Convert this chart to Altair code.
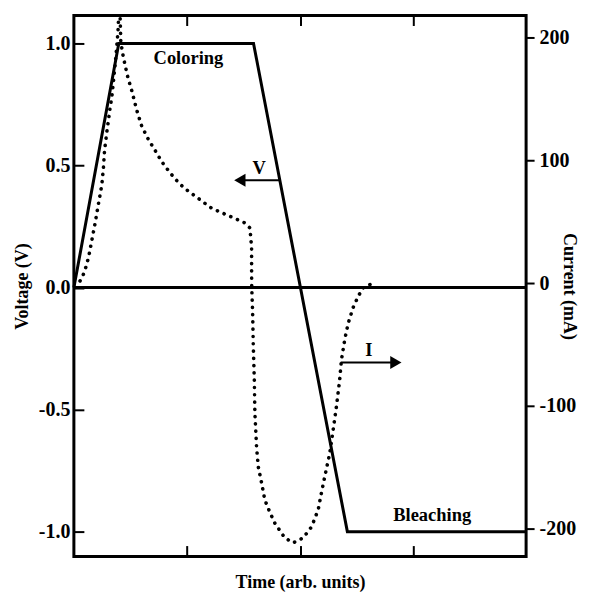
import altair as alt
import pandas as pd

# ---- data ----
# Voltage (solid line), time in arbitrary units
v_time = [0.0, 0.397, 1.589, 2.419, 4.0]
v_volts = [0.0, 1.0, 1.0, -1.0, -1.0]

# Current (dotted line), mA
i_time = [0.000, 0.042, 0.071, 0.100, 0.130, 0.159, 0.188, 0.218, 0.247, 0.262,
          0.271, 0.291, 0.306, 0.320, 0.336, 0.365, 0.390, 0.398, 0.404, 0.410,
          0.415, 0.430, 0.450, 0.477, 0.512, 0.556, 0.600, 0.660, 0.733, 0.777,
          0.850, 0.925, 0.983, 1.101, 1.219, 1.366, 1.513, 1.557, 1.572, 1.572,
          1.573, 1.581, 1.587, 1.596, 1.601, 1.616, 1.631, 1.660, 1.689, 1.733,
          1.778, 1.866, 1.940, 2.028, 2.102, 2.161, 2.190, 2.219, 2.263, 2.293,
          2.322, 2.351, 2.366, 2.396, 2.426, 2.470, 2.514, 2.558, 2.602, 2.650]
i_ma = [0, 0, 4, 11, 21, 35, 49, 65, 80, 95,
        108, 123, 133, 143, 152, 178, 205, 222, 232, 214,
        197, 188, 179, 168, 157, 141, 128, 117, 106, 99,
        90, 82, 77, 69, 61, 55, 49, 45, 29, 11,
        -3, -24, -52, -79, -106, -134, -150, -163, -177, -187,
        -196, -208, -212, -208, -199, -185, -171, -158, -139, -120,
        -101, -79, -63, -46, -33, -20, -11, -4, -2, 0]

# Annotations
phase_labels = ["Coloring", "Bleaching"]
phase_time = [1.013, 3.514]
phase_volts = [0.917, -0.958]

v_tag = ["V"]
v_tag_time = [1.638]
v_tag_volts = [0.491]
v_arrow_from = [1.819]
v_arrow_to = [1.468]
v_arrow_volts = [0.44]

i_tag = ["I"]
i_tag_time = [2.609]
i_tag_ma = [-54.3]
i_arrow_from = [2.360]
i_arrow_to = [2.848]
i_arrow_ma = [-64.9]

x_ticks = [1, 2, 3]
v_ticks = [-1.0, -0.5, 0.0, 0.5, 1.0]
i_ticks = [-200, -100, 0, 100, 200]

# ---- tables ----
df_v = pd.DataFrame({"t": v_time, "v": v_volts})
df_i = pd.DataFrame({"t": i_time, "i": i_ma, "idx": list(range(len(i_time)))})
df_zero = pd.DataFrame({"v": [0.0]})
df_col = pd.DataFrame({"t": phase_time[:1], "v": phase_volts[:1], "label": phase_labels[:1]})
df_ble = pd.DataFrame({"t": phase_time[1:], "v": phase_volts[1:], "label": phase_labels[1:]})
df_vtag = pd.DataFrame({"t": v_tag_time, "v": v_tag_volts, "label": v_tag})
df_varr = pd.DataFrame({"t": v_arrow_from, "t2": v_arrow_to, "v": v_arrow_volts})
df_itag = pd.DataFrame({"t": i_tag_time, "i": i_tag_ma, "label": i_tag})
df_iarr = pd.DataFrame({"t": i_arrow_from, "t2": i_arrow_to, "i": i_arrow_ma})

W, H = 453, 542
FONT = "Liberation Serif"

xS = alt.Scale(domain=[0, 4], nice=False, zero=False)
yV = alt.Scale(domain=[-1.102, 1.1145], nice=False, zero=False)
yI = alt.Scale(domain=[-223.2, 218.3], nice=False, zero=False)

ax_x_title = alt.Axis(orient="bottom", title="Time (arb. units)", ticks=False, labels=False,
                      domain=False, grid=False, titlePadding=17)
ax_x_in_bottom = alt.Axis(orient="top", offset=-H, values=x_ticks, labels=False, domain=False,
                          grid=False, tickSize=11, title=None)
ax_x_in_top = alt.Axis(orient="bottom", offset=-H, values=x_ticks, labels=False, domain=False,
                       grid=False, tickSize=10, title=None)
ax_v_labels = alt.Axis(orient="left", values=v_ticks, ticks=False, tickSize=0, labelPadding=4,
                       domain=False, grid=False, title="Voltage (V)", titlePadding=7,
                       labelExpr="(datum.value < 0 ? '-' : '') + format(abs(datum.value), '.1f')")
ax_v_ticks = alt.Axis(orient="right", offset=-W, values=v_ticks, labels=False, domain=False,
                      grid=False, tickSize=10, title=None)
ax_i = alt.Axis(orient="right", values=i_ticks, tickSize=8, labelPadding=5, domain=False,
                grid=False, title="Current (mA)", titlePadding=-16,
                labelExpr="(datum.value < 0 ? '-' : '') + format(abs(datum.value), 'd')")

v_line = alt.Chart(df_v).mark_line(color="black", strokeWidth=3).encode(
    x=alt.X("t:Q", scale=xS, axis=ax_x_title),
    y=alt.Y("v:Q", scale=yV, axis=ax_v_labels),
)

i_line = alt.Chart(df_i).mark_line(
    color="black", strokeWidth=3.6, strokeDash=[0.1, 7.2], strokeCap="round", clip=True
).encode(
    x=alt.X("t:Q", scale=xS, axis=ax_x_in_bottom),
    y=alt.Y("i:Q", scale=yI, axis=ax_i),
    order="idx:Q",
)

zero = alt.Chart(df_zero).mark_rule(color="black", strokeWidth=3).encode(
    y=alt.Y("v:Q", scale=yV, axis=ax_v_ticks),
)

txt_style = dict(font=FONT, fontWeight="bold", fontSize=18.5, color="black")

col_txt = alt.Chart(df_col).mark_text(align="center", baseline="alphabetic", **txt_style).encode(
    x=alt.X("t:Q", scale=xS, axis=ax_x_in_top),
    y=alt.Y("v:Q", scale=yV, axis=None),
    text="label:N",
)
ble_txt = alt.Chart(df_ble).mark_text(align="right", baseline="alphabetic", **txt_style).encode(
    x=alt.X("t:Q", scale=xS, axis=None),
    y=alt.Y("v:Q", scale=yV, axis=None),
    text="label:N",
)
vtag_txt = alt.Chart(df_vtag).mark_text(align="center", baseline="middle", **txt_style).encode(
    x=alt.X("t:Q", scale=xS, axis=None),
    y=alt.Y("v:Q", scale=yV, axis=None),
    text="label:N",
)
varr_line = alt.Chart(df_varr).mark_rule(color="black", strokeWidth=2).encode(
    x=alt.X("t:Q", scale=xS, axis=None),
    x2="t2:Q",
    y=alt.Y("v:Q", scale=yV, axis=None),
)
varr_head = alt.Chart(df_varr).mark_point(shape="triangle-left", filled=True, color="black",
                                          size=170, opacity=1).encode(
    x=alt.X("t2:Q", scale=xS, axis=None),
    y=alt.Y("v:Q", scale=yV, axis=None),
)
itag_txt = alt.Chart(df_itag).mark_text(align="center", baseline="middle", **txt_style).encode(
    x=alt.X("t:Q", scale=xS, axis=None),
    y=alt.Y("i:Q", scale=yI, axis=None),
    text="label:N",
)
iarr_line = alt.Chart(df_iarr).mark_rule(color="black", strokeWidth=2).encode(
    x=alt.X("t:Q", scale=xS, axis=None),
    x2="t2:Q",
    y=alt.Y("i:Q", scale=yI, axis=None),
)
iarr_head = alt.Chart(df_iarr).mark_point(shape="triangle-right", filled=True, color="black",
                                          size=170, opacity=1).encode(
    x=alt.X("t2:Q", scale=xS, axis=None),
    y=alt.Y("i:Q", scale=yI, axis=None),
)

chart = alt.layer(
    i_line, v_line, zero, col_txt, ble_txt, vtag_txt, varr_line, varr_head,
    itag_txt, iarr_line, iarr_head,
).resolve_scale(
    y="independent"
).resolve_axis(
    x="independent", y="independent"
).properties(
    width=W, height=H,
    padding={"left": 5, "top": 6, "right": 6, "bottom": 0},
    background="white",
).configure_view(
    stroke="black", strokeWidth=3
).configure_axis(
    labelFont=FONT, labelFontWeight="bold", labelFontSize=20, labelColor="black",
    titleFont=FONT, titleFontWeight="bold", titleFontSize=18, titleColor="black",
    tickColor="black", tickWidth=2,
)

chart.save("out.html", embed_options={"renderer": "svg", "actions": False})
